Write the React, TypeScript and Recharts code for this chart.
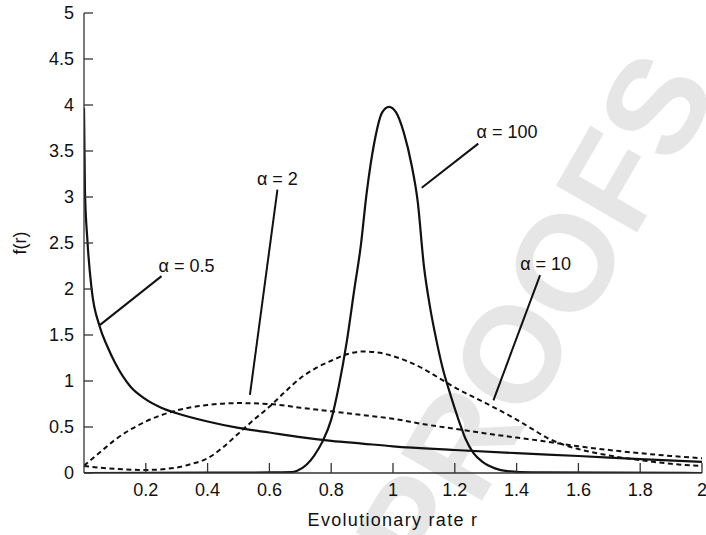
import { LineChart, Line, XAxis, YAxis, ReferenceLine, ReferenceDot } from "recharts";

// alpha = 0.5 (solid)
const rateA05 = [0, 0.003, 0.011, 0.025, 0.05, 0.075, 0.1, 0.15, 0.2, 0.25, 0.3, 0.4, 0.5, 0.6, 0.7, 0.8, 0.9, 1.0, 1.2, 1.4, 1.6, 1.8, 2.0];
const densA05 = [3.97, 3.08, 2.53, 1.99, 1.6, 1.38, 1.2, 0.94, 0.8, 0.71, 0.65, 0.56, 0.49, 0.44, 0.39, 0.35, 0.32, 0.29, 0.25, 0.215, 0.185, 0.15, 0.12];

// alpha = 2 (dashed)
const rateA2 = [0, 0.05, 0.1, 0.2, 0.3, 0.4, 0.5, 0.6, 0.7, 0.8, 0.9, 1.0, 1.1, 1.2, 1.3, 1.4, 1.5, 1.6, 1.7, 1.8, 1.9, 2.0];
const densA2 = [0.08, 0.22, 0.36, 0.56, 0.68, 0.74, 0.76, 0.75, 0.71, 0.67, 0.63, 0.59, 0.53, 0.48, 0.43, 0.385, 0.34, 0.29, 0.25, 0.215, 0.185, 0.16];

// alpha = 10 (dashed)
const rateA10 = [0, 0.1, 0.2, 0.3, 0.35, 0.4, 0.45, 0.5, 0.55, 0.6, 0.65, 0.7, 0.75, 0.8, 0.85, 0.9, 0.95, 1.0, 1.05, 1.1, 1.15, 1.2, 1.3, 1.4, 1.45, 1.5, 1.55, 1.6, 1.7, 1.8, 1.9, 2.0];
const densA10 = [0.075, 0.045, 0.033, 0.06, 0.1, 0.16, 0.28, 0.43, 0.58, 0.72, 0.88, 1.03, 1.14, 1.22, 1.29, 1.32, 1.31, 1.27, 1.21, 1.13, 1.03, 0.93, 0.76, 0.58, 0.48, 0.38, 0.31, 0.26, 0.19, 0.14, 0.1, 0.075];

// alpha = 100 (solid)
const rateA100 = [0, 0.4, 0.6, 0.67, 0.69, 0.72, 0.745, 0.77, 0.8, 0.825, 0.85, 0.875, 0.895, 0.915, 0.94, 0.965, 0.987, 1.01, 1.035, 1.06, 1.08, 1.1, 1.12, 1.14, 1.16, 1.185, 1.21, 1.235, 1.26, 1.29, 1.33, 1.37, 1.45, 2.0];
const densA100 = [0, 0.003, 0.006, 0.01, 0.025, 0.09, 0.19, 0.33, 0.58, 0.95, 1.42, 2.0, 2.45, 3.05, 3.6, 3.92, 3.98, 3.92, 3.7, 3.35, 2.95, 2.25, 1.8, 1.45, 1.15, 0.86, 0.6, 0.37, 0.22, 0.12, 0.05, 0.02, 0.006, 0];

const xTicks = [0.2, 0.4, 0.6, 0.8, 1, 1.2, 1.4, 1.6, 1.8, 2];
const yTicks = [0, 0.5, 1, 1.5, 2, 2.5, 3, 3.5, 4, 4.5, 5];

// curve labels and their leader lines, in data units
const curveLabels = [
  { text: "α = 0.5", r: 0.332, f: 2.25, from: [0.251, 2.14], to: [0.052, 1.61] },
  { text: "α = 2", r: 0.626, f: 3.2, from: [0.626, 3.08], to: [0.537, 0.85] },
  { text: "α = 100", r: 1.369, f: 3.71, from: [1.276, 3.58], to: [1.093, 3.1] },
  { text: "α = 10", r: 1.494, f: 2.28, from: [1.476, 2.15], to: [1.325, 0.79] },
];

const toPoints = (rs: number[], fs: number[]) => rs.map((r, i) => ({ r, f: fs[i] }));

const FONT = '"Liberation Sans", Arial, Helvetica, sans-serif';

function XTick(props: any) {
  const { x, y, payload } = props;
  return (
    <g>
      <line x1={x} x2={x} y1={y - 10} y2={y - 20} stroke="#333" strokeWidth={1.3} />
      <text x={x} y={y} dy="0.72em" textAnchor="middle" fontSize={18} fontFamily={FONT} fill="#111">
        {String(payload.value)}
      </text>
    </g>
  );
}

function YTick(props: any) {
  const { x, y, payload } = props;
  return (
    <g>
      <line x1={x + 10} x2={x + 19} y1={y} y2={y} stroke="#333" strokeWidth={1.3} />
      <text x={x} y={y} dy="0.36em" textAnchor="end" fontSize={18} fontFamily={FONT} fill="#111">
        {String(payload.value)}
      </text>
    </g>
  );
}

function YTitle(props: any) {
  const { viewBox } = props;
  const cx = viewBox.x - 4;
  const cy = viewBox.y + viewBox.height / 2;
  return (
    <text
      x={cx}
      y={cy}
      transform={`rotate(-90, ${cx}, ${cy})`}
      textAnchor="middle"
      dominantBaseline="central"
      fontSize={18}
      fontFamily={FONT}
      fill="#111"
    >
      f(r)
    </text>
  );
}

export default function App() {
  return (
    <div style={{ position: "absolute", left: 0, top: 0, width: 706, height: 535, background: "#fff", overflow: "hidden" }}>
      <svg width={706} height={535} style={{ position: "absolute", left: 0, top: 0 }}>
        <text
          x={535}
          y={315}
          transform="rotate(-60, 535, 315)"
          textAnchor="middle"
          dominantBaseline="central"
          fontSize={136}
          fontWeight="bold"
          fontFamily={FONT}
          fill="#e6e6e6"
        >
          PROOFS
        </text>
      </svg>
      <div style={{ position: "absolute", left: 0, top: 0 }}>
        <LineChart width={706} height={535} margin={{ top: 13, right: 4, bottom: 32, left: 24 }}>
          <XAxis
            type="number"
            dataKey="r"
            domain={[0, 2]}
            ticks={xTicks}
            allowDataOverflow
            height={30}
            tickSize={0}
            tickMargin={10}
            tickLine={false}
            axisLine={{ stroke: "#333", strokeWidth: 1.3 }}
            tick={<XTick />}
            label={{ value: "Evolutionary rate r", position: "bottom", offset: 10, fontSize: 18, letterSpacing: 1.3, fontFamily: FONT, fill: "#111" }}
          />
          <YAxis
            type="number"
            domain={[0, 5]}
            ticks={yTicks}
            allowDataOverflow
            width={60}
            tickSize={0}
            tickMargin={10}
            tickLine={false}
            axisLine={{ stroke: "#333", strokeWidth: 1.3 }}
            tick={<YTick />}
            label={(p: any) => <YTitle {...p} />}
          />
          <Line data={toPoints(rateA05, densA05)} dataKey="f" type="monotone" stroke="#111" strokeWidth={2.2} dot={false} isAnimationActive={false} />
          <Line data={toPoints(rateA2, densA2)} dataKey="f" type="monotone" stroke="#111" strokeWidth={2} strokeDasharray="5 3.5" dot={false} isAnimationActive={false} />
          <Line data={toPoints(rateA10, densA10)} dataKey="f" type="monotone" stroke="#111" strokeWidth={2} strokeDasharray="5 3.5" dot={false} isAnimationActive={false} />
          <Line data={toPoints(rateA100, densA100)} dataKey="f" type="monotone" stroke="#111" strokeWidth={2.2} dot={false} isAnimationActive={false} />
          {curveLabels.map((l) => (
            <ReferenceLine
              key={"seg" + l.text}
              segment={[{ x: l.from[0], y: l.from[1] }, { x: l.to[0], y: l.to[1] }]}
              stroke="#111"
              strokeWidth={2}
            />
          ))}
          {curveLabels.map((l) => (
            <ReferenceDot
              key={"lab" + l.text}
              x={l.r}
              y={l.f}
              r={0}
              fill="none"
              stroke="none"
              label={{ value: l.text, position: "center", fontSize: 18, fontFamily: FONT, fill: "#111" }}
            />
          ))}
        </LineChart>
      </div>
    </div>
  );
}
